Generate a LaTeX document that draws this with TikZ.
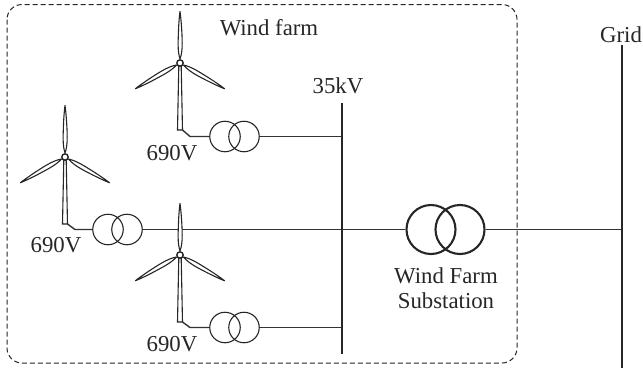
\documentclass[tikz,border=0pt]{standalone}
\usepackage{fontspec}
\setmainfont{Liberation Serif}
\tikzset{
  x=1pt,y=-1pt,
  ink/.style={draw=black!85},
  wire/.style={draw=black!80,line width=1.4pt},
  busbar/.style={ink,line width=2.2pt},
  farmframe/.style={ink,line width=1pt,dash pattern=on 5pt off 3pt,rounded corners=15pt},
  smallcoil/.style={circle,ink,line width=1.1pt,minimum size=30.5pt,inner sep=0pt},
  bigcoil/.style={circle,ink,line width=2.1pt,minimum size=49pt,inner sep=0pt},
  lbl/.style={font=\fontsize{22.8}{25}\selectfont,text=black!85,inner sep=0pt,align=center},
  blade/.style={ink,fill=white,line width=1.1pt,line join=round},
  turbine/.pic={
    \draw[ink,fill=white,line width=1.1pt] (-2.5,67) -- (2.5,67) -- (1.2,3) -- (-1.2,3) -- cycle;
    \foreach \a in {0,120,240}{
      \draw[blade,rotate=\a] (0,-4) .. controls (-2.6,-12) and (-1.8,-22) .. (-1.6,-30)
        .. controls (-1.4,-38) and (-0.6,-47) .. (0,-51.5)
        .. controls (0.8,-47) and (2.2,-30) .. (2.2,-20)
        .. controls (2.2,-12) and (1.4,-8) .. (0,-4) -- cycle;
    }
    \draw[ink,fill=white,line width=1.4pt] (0,0) circle (3.2);
  }
}
\begin{document}
\begin{tikzpicture}
\useasboundingbox (0,0) rectangle (643,370);
\draw[farmframe] (7,4.5) rectangle (517,363);

% bus coordinates
\coordinate (busTop) at (342,103);
\coordinate (busBot) at (342,354);
\coordinate (gridTop) at (622,45);
\coordinate (gridBot) at (622,368);
\coordinate (gridTap) at (622,229.5);
\coordinate (bus1) at (342,136.5);
\coordinate (bus2) at (342,229.5);
\coordinate (bus3) at (342,327.5);

% transformers
\node[smallcoil] (t1a) at (225,136.5) {};
\node[smallcoil] (t1b) at (244,136.5) {};
\node[smallcoil] (t2a) at (108,229.5) {};
\node[smallcoil] (t2b) at (127,229.5) {};
\node[smallcoil] (t3a) at (225,327.5) {};
\node[smallcoil] (t3b) at (244,327.5) {};
\node[bigcoil] (sa) at (431,229.5) {};
\node[bigcoil] (sb) at (460,229.5) {};

% connectors
\draw[wire] (t1b) -- (bus1);
\draw[wire] (t2b) -- (bus2) -- (sa);
\draw[wire] (t3b) -- (bus3);
\draw[wire] (sb) -- (gridTap);
\draw[busbar] (busTop) -- (busBot);
\draw[busbar] (gridTop) -- (gridBot);

% turbines
\pic at (180,63) {turbine};
\pic at (65,157) {turbine};
\pic at (180,255) {turbine};

% tower feeders
\coordinate (f1) at (182.5,130);
\coordinate (f2) at (67.5,224);
\coordinate (f3) at (182.5,322);
\draw[wire] (f1) -- (190,136.5) -- (t1a);
\draw[wire] (f2) -- (75,229.5) -- (t2a);
\draw[wire] (f3) -- (190,327.5) -- (t3a);

% labels
\node[lbl] (wf) at (269,28) {Wind farm};
\node[lbl] (kv) at (338,86) {35kV};
\node[lbl] (gr) at (621,35) {Grid};
\node[lbl] (v1) at (172,153) {690V};
\node[lbl] (v2) at (56,245) {690V};
\node[lbl] (v3) at (172,344) {690V};
\node[lbl] (ss) at (446,288.5) {Wind Farm\\Substation};
\end{tikzpicture}
\end{document}
